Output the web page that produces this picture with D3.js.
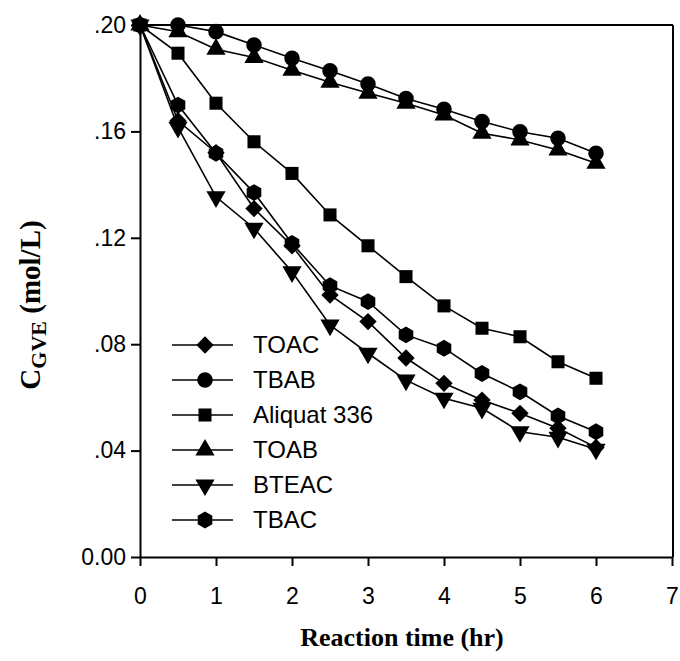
<!DOCTYPE html>
<html>
<head>
<meta charset="utf-8">
<title>GVE</title>
<script src="https://cdn.jsdelivr.net/npm/d3@7"></script>
<style>
  body { margin: 0; background: #fff; }
  .axis path, .axis line { fill: none; stroke: #000; stroke-width: 2; }
  .axis text { font-family: "Liberation Sans", Arial, sans-serif; font-size: 23px; fill: #000; }
</style>
</head>
<body>
<script>
// reaction time (hr)
var times = [0, 0.5, 1, 1.5, 2, 2.5, 3, 3.5, 4, 4.5, 5, 5.5, 6];
// C_GVE (mol/L) per catalyst
var toac    = [0.200, 0.164, 0.152, 0.131, 0.117, 0.0985, 0.0885, 0.0748, 0.0653, 0.0590, 0.0540, 0.0484, 0.0412];
var tbab    = [0.200, 0.200, 0.1975, 0.1925, 0.1875, 0.1828, 0.1778, 0.1724, 0.1683, 0.1637, 0.1599, 0.1574, 0.1518];
var aliquat = [0.200, 0.1894, 0.1706, 0.1561, 0.1442, 0.1286, 0.1170, 0.1054, 0.0944, 0.0860, 0.0828, 0.0734, 0.0672];
var toab    = [0.200, 0.1975, 0.1909, 0.1878, 0.1830, 0.1785, 0.1744, 0.1706, 0.1662, 0.1593, 0.1568, 0.1530, 0.1480];
var bteac   = [0.200, 0.1615, 0.1354, 0.1236, 0.1072, 0.0872, 0.0766, 0.0665, 0.0597, 0.0559, 0.0471, 0.0450, 0.0405];
var tbac    = [0.200, 0.1699, 0.1518, 0.1370, 0.1179, 0.1020, 0.0960, 0.0835, 0.0785, 0.0690, 0.0621, 0.0530, 0.0471];
var seriesNames = ["TOAC", "TBAB", "Aliquat 336", "TOAB", "BTEAC", "TBAC"];
var xTicks = [0, 1, 2, 3, 4, 5, 6, 7];
var yTicks = [0, 0.04, 0.08, 0.12, 0.16, 0.20];
var yTickLabels = ["0.00", ".04", ".08", ".12", ".16", ".20"];

var width = 680, height = 661;
var padLeft = 140, padRight = 673, padTop = 25, padBottom = 557;

var svg = d3.select("body").append("svg")
  .attr("width", width)
  .attr("height", height);

var x = d3.scaleLinear().domain([0, 7]).range([padLeft, padLeft + 7 * 76]);
var y = d3.scaleLinear().domain([0, 0.2]).range([padBottom, padTop]);

// hexagon marker, d3 has none
var hexagon = {
  draw: function(ctx, size) {
    var r = Math.sqrt(size / (1.5 * Math.sqrt(3)));
    for (var i = 0; i < 6; i++) {
      var a = Math.PI / 6 + i * Math.PI / 3;
      if (i === 0) ctx.moveTo(r * Math.cos(a), r * Math.sin(a));
      else ctx.lineTo(r * Math.cos(a), r * Math.sin(a));
    }
    ctx.closePath();
  }
};

var series = [
  {name: seriesNames[0], values: toac,    type: d3.symbolSquare,   size: 150, rot: 45},
  {name: seriesNames[1], values: tbab,    type: d3.symbolCircle,   size: 190, rot: 0},
  {name: seriesNames[2], values: aliquat, type: d3.symbolSquare,   size: 170, rot: 0},
  {name: seriesNames[3], values: toab,    type: d3.symbolTriangle, size: 160, rot: 0},
  {name: seriesNames[4], values: bteac,   type: d3.symbolTriangle, size: 160, rot: 180},
  {name: seriesNames[5], values: tbac,    type: hexagon,           size: 185, rot: 0}
];

// frame: top and right
svg.append("line").attr("x1", padLeft).attr("x2", padRight).attr("y1", padTop).attr("y2", padTop)
  .attr("stroke", "#000").attr("stroke-width", 2);
svg.append("line").attr("x1", padRight).attr("x2", padRight).attr("y1", padTop).attr("y2", padBottom)
  .attr("stroke", "#000").attr("stroke-width", 2);

var xAxis = d3.axisBottom(x).tickValues(xTicks).tickSize(9).tickPadding(22).tickSizeOuter(0)
  .tickFormat(d3.format("d"));
svg.append("g").attr("class", "axis")
  .attr("transform", "translate(0," + padBottom + ")")
  .call(xAxis);

var yAxis = d3.axisLeft(y).tickValues(yTicks).tickSize(9).tickPadding(5).tickSizeOuter(0)
  .tickFormat(function(d, i) { return yTickLabels[i]; });
svg.append("g").attr("class", "axis")
  .attr("transform", "translate(" + padLeft + ",0)")
  .call(yAxis);

var line = d3.line()
  .x(function(d, i) { return x(times[i]); })
  .y(function(d) { return y(d); });

series.forEach(function(s) {
  svg.append("path")
    .attr("d", line(s.values))
    .attr("fill", "none")
    .attr("stroke", "#000")
    .attr("stroke-width", 1.6);
  svg.selectAll(null)
    .data(s.values)
    .enter()
    .append("path")
    .attr("d", d3.symbol().type(s.type).size(s.size))
    .attr("transform", function(d, i) {
      return "translate(" + x(times[i]) + "," + y(d) + ") rotate(" + s.rot + ")";
    })
    .attr("fill", "#000");
});

// legend
var legend = svg.append("g").attr("transform", "translate(172,345)");
series.forEach(function(s, i) {
  var g = legend.append("g").attr("transform", "translate(0," + (i * 35) + ")");
  g.append("line").attr("x1", 0).attr("x2", 61).attr("y1", 0).attr("y2", 0)
    .attr("stroke", "#000").attr("stroke-width", 1.6);
  g.append("path")
    .attr("d", d3.symbol().type(s.type).size(s.size))
    .attr("transform", "translate(33,0) rotate(" + s.rot + ")")
    .attr("fill", "#000");
  g.append("text")
    .attr("x", 81).attr("y", 8)
    .style("font-family", "'Liberation Sans', Arial, sans-serif")
    .style("font-size", "24px")
    .text(s.name);
});

// axis titles
svg.append("text")
  .attr("x", 402).attr("y", 646)
  .attr("text-anchor", "middle")
  .style("font-family", "'Liberation Serif', 'Times New Roman', serif")
  .style("font-weight", "bold")
  .style("font-size", "26px")
  .text("Reaction time (hr)");

var yt = svg.append("text")
  .attr("transform", "translate(40,305) rotate(-90)")
  .attr("text-anchor", "middle")
  .style("font-family", "'Liberation Serif', 'Times New Roman', serif")
  .style("font-weight", "bold")
  .style("font-size", "29px");
yt.append("tspan").text("C");
yt.append("tspan").attr("dy", 6).style("font-size", "22px").text("GVE");
yt.append("tspan").attr("dy", -6).text(" (mol/L)");
</script>
</body>
</html>
